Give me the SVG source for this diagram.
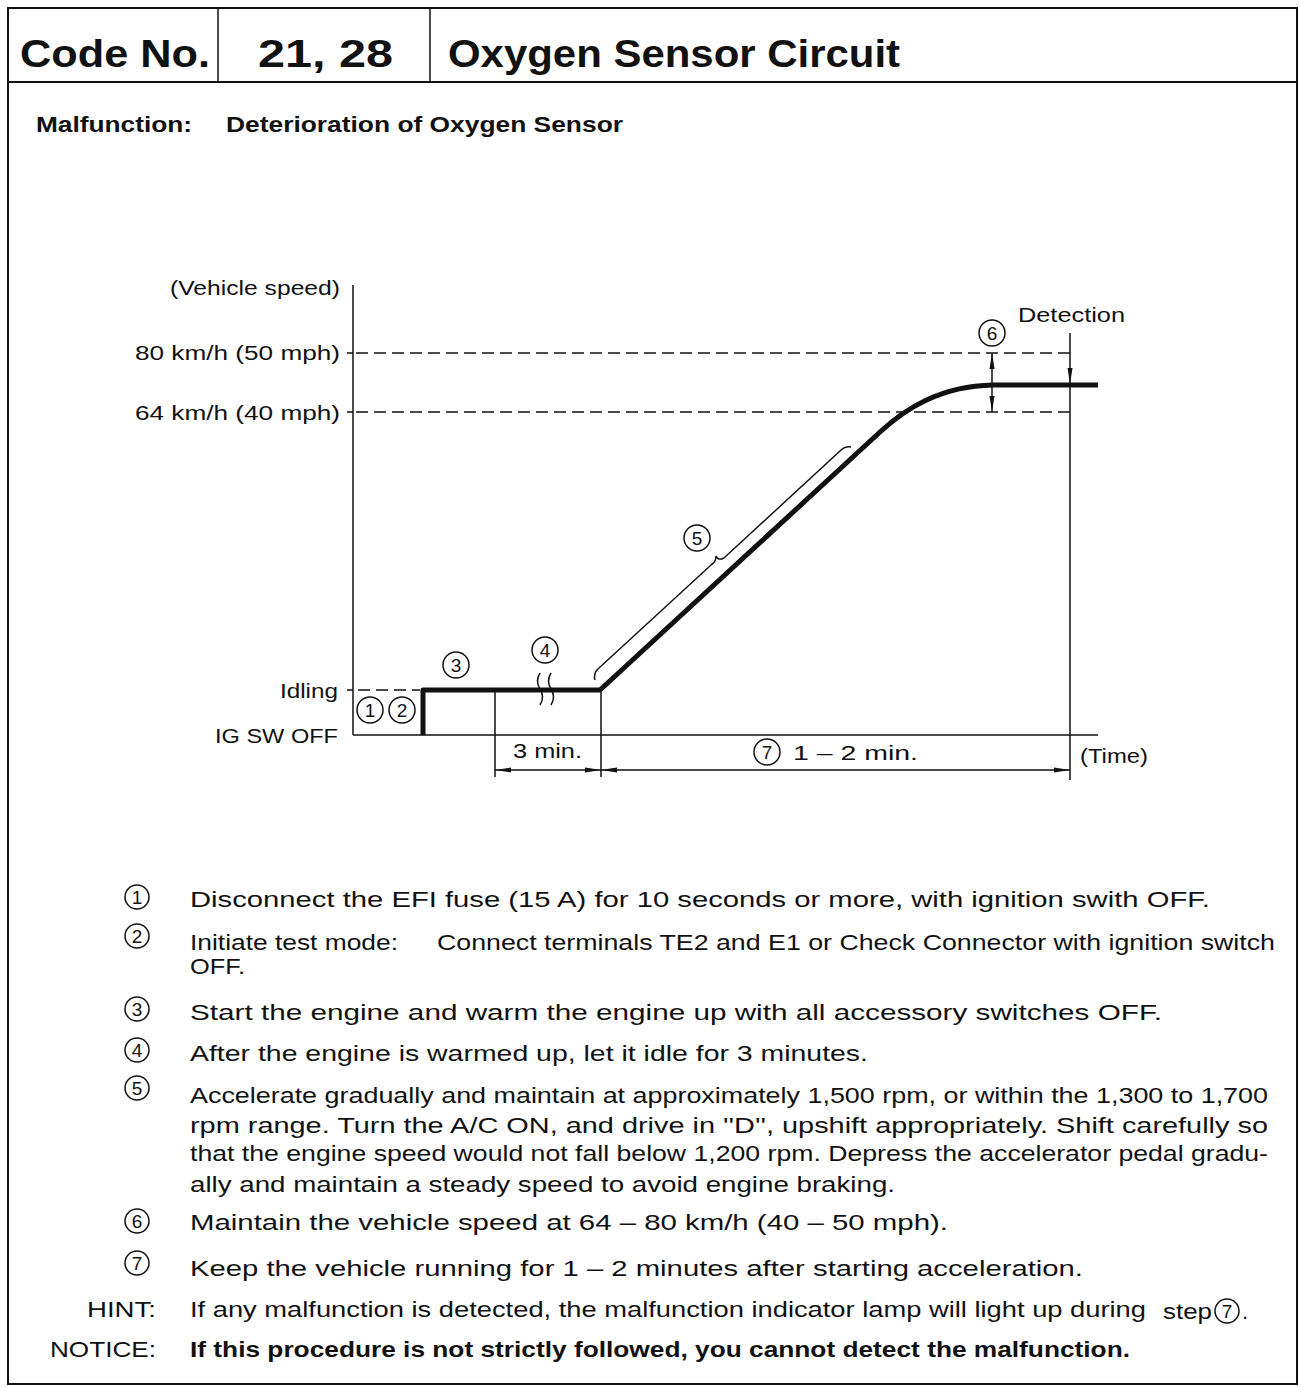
<svg xmlns="http://www.w3.org/2000/svg" width="1300" height="1387" viewBox="0 0 1300 1387">
<style>
.t{font-family:"Liberation Sans",Arial,sans-serif;font-size:22px;fill:#111}
.g{font-family:"Liberation Sans",Arial,sans-serif;font-size:20px;fill:#111}
.b{font-weight:bold}
.h{font-family:"Liberation Sans",Arial,sans-serif;font-size:39px;font-weight:bold;fill:#111}
.n{font-family:"Liberation Sans",Arial,sans-serif;font-size:19px;fill:#111;text-anchor:middle}
.c{fill:none;stroke:#111;stroke-width:1.5}
.ln{fill:none;stroke:#111;stroke-width:1.5}
.dash{fill:none;stroke:#111;stroke-width:1.5;stroke-dasharray:12 6}
.thick{fill:none;stroke:#111;stroke-width:5;stroke-linejoin:round}
</style>
<defs>
<marker id="arr" viewBox="0 0 16 6" refX="16" refY="3" markerWidth="16" markerHeight="6" markerUnits="userSpaceOnUse" orient="auto-start-reverse">
<path d="M0 0.5 L16 3 L0 5.5 Z" fill="#111"/>
</marker>
</defs>

<g id="frame">
<rect x="8" y="8" width="1289" height="1376" fill="none" stroke="#111" stroke-width="2"/>
<line x1="8" y1="82" x2="1297" y2="82" stroke="#111" stroke-width="2"/>
<line x1="218" y1="8" x2="218" y2="82" stroke="#111" stroke-width="1.5"/>
<line x1="430" y1="8" x2="430" y2="82" stroke="#111" stroke-width="1.5"/>
</g>

<g id="header">
<text class="h" x="20" y="67" textLength="190" lengthAdjust="spacingAndGlyphs">Code No.</text>
<text class="h" x="258" y="67" textLength="135" lengthAdjust="spacingAndGlyphs">21, 28</text>
<text class="h" x="448" y="67" textLength="452" lengthAdjust="spacingAndGlyphs">Oxygen Sensor Circuit</text>
<text class="t b" x="36" y="132" textLength="156" lengthAdjust="spacingAndGlyphs">Malfunction:</text>
<text class="t b" x="226" y="132" textLength="397" lengthAdjust="spacingAndGlyphs">Deterioration of Oxygen Sensor</text>
</g>

<g id="axes">
<line class="ln" x1="353" y1="285" x2="353" y2="735"/>
<line class="ln" x1="353" y1="735" x2="1098" y2="735"/>
<line class="ln" x1="347" y1="353" x2="353" y2="353"/>
<line class="ln" x1="347" y1="412" x2="353" y2="412"/>
<line class="ln" x1="347" y1="690" x2="353" y2="690"/>
<text class="g" x="340" y="295" text-anchor="end" textLength="170" lengthAdjust="spacingAndGlyphs">(Vehicle speed)</text>
<text class="g" x="340" y="360" text-anchor="end" textLength="205" lengthAdjust="spacingAndGlyphs">80 km/h (50 mph)</text>
<text class="g" x="340" y="420" text-anchor="end" textLength="205" lengthAdjust="spacingAndGlyphs">64 km/h (40 mph)</text>
<text class="g" x="338" y="698" text-anchor="end" textLength="58" lengthAdjust="spacingAndGlyphs">Idling</text>
<text class="g" x="338" y="743" text-anchor="end" textLength="123" lengthAdjust="spacingAndGlyphs">IG SW OFF</text>
<text class="g" x="1080" y="763" textLength="68" lengthAdjust="spacingAndGlyphs">(Time)</text>
</g>

<g id="connectors">
<line class="dash" x1="356" y1="353" x2="1070" y2="353"/>
<line class="dash" x1="356" y1="412" x2="1070" y2="412"/>
<line class="dash" x1="358" y1="690" x2="420" y2="690"/>
<path class="thick" d="M423 735 L423 690 L600 690 L880 432 C905 409 940 386 993 385 L1098 385"/>
<path class="ln" d="M540 673 q-5 8 0 16 q5 8 0 16"/>
<path class="ln" d="M551 673 q-5 8 0 16 q5 8 0 16"/>
<path class="ln" d="M595 680 Q593 673 599 668 L711 565 Q716 562 716 556 Q718 561 724 558 L840 451 Q845 446 851 447"/>
<line class="ln" x1="1070" y1="333" x2="1070" y2="384" marker-end="url(#arr)"/>
<line class="ln" x1="1070" y1="384" x2="1070" y2="780"/>
<line class="ln" x1="992" y1="385" x2="992" y2="353" marker-end="url(#arr)"/>
<line class="ln" x1="992" y1="385" x2="992" y2="412" marker-end="url(#arr)"/>
<line class="ln" x1="495" y1="690" x2="495" y2="777"/>
<line class="ln" x1="601" y1="692" x2="601" y2="777"/>
<line class="ln" x1="495" y1="770" x2="601" y2="770" marker-start="url(#arr)" marker-end="url(#arr)"/>
<line class="ln" x1="601" y1="770" x2="1070" y2="770" marker-start="url(#arr)" marker-end="url(#arr)"/>
</g>

<g id="graph-labels">
<circle class="c" cx="370" cy="710" r="13"/><text class="n" x="370" y="717">1</text>
<circle class="c" cx="402" cy="710" r="13"/><text class="n" x="402" y="717">2</text>
<circle class="c" cx="456" cy="665" r="13"/><text class="n" x="456" y="672">3</text>
<circle class="c" cx="545" cy="650" r="13"/><text class="n" x="545" y="657">4</text>
<circle class="c" cx="697" cy="538" r="13"/><text class="n" x="697" y="545">5</text>
<circle class="c" cx="992" cy="333" r="13"/><text class="n" x="992" y="340">6</text>
<text class="g" x="1018" y="322" textLength="107" lengthAdjust="spacingAndGlyphs">Detection</text>
<text class="g" x="513" y="758" textLength="69" lengthAdjust="spacingAndGlyphs">3 min.</text>
<circle class="c" cx="767" cy="752" r="13"/><text class="n" x="767" y="759">7</text>
<text class="g" x="793" y="760" textLength="125" lengthAdjust="spacingAndGlyphs">1 – 2 min.</text>
</g>

<g id="steps">
<circle class="c" cx="137" cy="897" r="12"/><text class="n" x="137" y="904">1</text>
<text class="t" x="190" y="907" textLength="1020" lengthAdjust="spacingAndGlyphs">Disconnect the EFI fuse (15 A) for 10 seconds or more, with ignition swith OFF.</text>
<circle class="c" cx="137" cy="936" r="12"/><text class="n" x="137" y="943">2</text>
<text class="t" x="190" y="950" textLength="208" lengthAdjust="spacingAndGlyphs">Initiate test mode:</text>
<text class="t" x="437" y="950" textLength="838" lengthAdjust="spacingAndGlyphs">Connect terminals TE2 and E1 or Check Connector with ignition switch</text>
<text class="t" x="190" y="974" textLength="55" lengthAdjust="spacingAndGlyphs">OFF.</text>
<circle class="c" cx="137" cy="1009" r="12"/><text class="n" x="137" y="1016">3</text>
<text class="t" x="190" y="1020" textLength="972" lengthAdjust="spacingAndGlyphs">Start the engine and warm the engine up with all accessory switches OFF.</text>
<circle class="c" cx="137" cy="1050" r="12"/><text class="n" x="137" y="1057">4</text>
<text class="t" x="190" y="1061" textLength="678" lengthAdjust="spacingAndGlyphs">After the engine is warmed up, let it idle for 3 minutes.</text>
<circle class="c" cx="137" cy="1088" r="12"/><text class="n" x="137" y="1095">5</text>
<text class="t" x="190" y="1103" textLength="1078" lengthAdjust="spacingAndGlyphs">Accelerate gradually and maintain at approximately 1,500 rpm, or within the 1,300 to 1,700</text>
<text class="t" x="190" y="1133" textLength="1078" lengthAdjust="spacingAndGlyphs">rpm range. Turn the A/C ON, and drive in ''D'', upshift appropriately. Shift carefully so</text>
<text class="t" x="190" y="1161" textLength="1078" lengthAdjust="spacingAndGlyphs">that the engine speed would not fall below 1,200 rpm. Depress the accelerator pedal gradu-</text>
<text class="t" x="190" y="1192" textLength="705" lengthAdjust="spacingAndGlyphs">ally and maintain a steady speed to avoid engine braking.</text>
<circle class="c" cx="137" cy="1221" r="12"/><text class="n" x="137" y="1228">6</text>
<text class="t" x="190" y="1230" textLength="758" lengthAdjust="spacingAndGlyphs">Maintain the vehicle speed at 64 – 80 km/h (40 – 50 mph).</text>
<circle class="c" cx="137" cy="1263" r="12"/><text class="n" x="137" y="1270">7</text>
<text class="t" x="190" y="1276" textLength="893" lengthAdjust="spacingAndGlyphs">Keep the vehicle running for 1 – 2 minutes after starting acceleration.</text>
<text class="t" x="156" y="1317" text-anchor="end" textLength="69" lengthAdjust="spacingAndGlyphs">HINT:</text>
<text class="t" x="190" y="1317" textLength="956" lengthAdjust="spacingAndGlyphs">If any malfunction is detected, the malfunction indicator lamp will light up during</text>
<text class="t" x="1163" y="1319" textLength="49" lengthAdjust="spacingAndGlyphs">step</text>
<circle class="c" cx="1227" cy="1311" r="12"/><text class="n" x="1227" y="1318">7</text>
<text class="t" x="1242" y="1319">.</text>
<text class="t" x="156" y="1357" text-anchor="end" textLength="106" lengthAdjust="spacingAndGlyphs">NOTICE:</text>
<text class="t b" x="190" y="1357" textLength="940" lengthAdjust="spacingAndGlyphs">If this procedure is not strictly followed, you cannot detect the malfunction.</text>
</g>
</svg>
